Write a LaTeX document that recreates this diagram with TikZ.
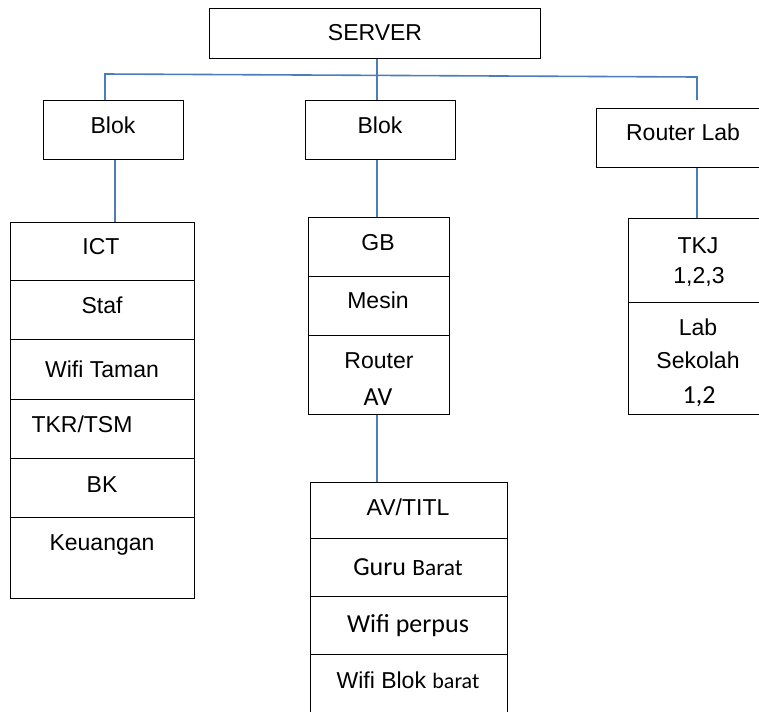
\documentclass[tikz,border=0pt]{standalone}
\usepackage{fontspec}
\setmainfont{Liberation Sans}
\newfontfamily\calib{Carlito}
\definecolor{linkblue}{RGB}{74,126,187}
\newcommand\cellnode[5]{\node[cell, minimum width=#4*0.75pt, minimum height=#5*0.75pt] (#1) at (#2,#3) {};}
\newcommand\calbig{\calib\fontsize{19.5}{22}\selectfont}
\newcommand\calmid{\calib\fontsize{17.5}{21}\selectfont}
\newcommand\calsmall{\calib\fontsize{16.5}{20}\selectfont}
\tikzset{
  cell/.style={draw=black, line width=0.8pt, rectangle, inner sep=0pt, anchor=north west},
  lbl/.style={anchor=base, inner sep=0pt, font=\fontsize{17.25}{20}\selectfont},
  link/.style={draw=linkblue, line width=1.2pt},
}
\begin{document}
\begin{tikzpicture}[x=0.75pt,y=-0.75pt]
\useasboundingbox (0,0) rectangle (759,711);
\clip (0,0) rectangle (759,711);
% top level
\cellnode{server}{209}{8}{331}{50}
\cellnode{blokA}{43}{100}{140}{59}
\cellnode{blokB}{305}{100}{150}{59}
\cellnode{rlab}{596}{108}{166}{59}
% left stack
\cellnode{ict}{10}{222}{184}{58}
\cellnode{staf}{10}{280}{184}{59}
\cellnode{wtaman}{10}{339}{184}{60}
\cellnode{tkr}{10}{399}{184}{59}
\cellnode{bk}{10}{458}{184}{59}
\cellnode{keu}{10}{517}{184}{81}
% middle stack
\cellnode{gb}{308}{217}{141}{59}
\cellnode{mesin}{308}{276}{141}{59}
\cellnode{rav}{308}{335}{141}{79}
% lower stack
\cellnode{avt}{310}{482}{197}{56}
\cellnode{guru}{310}{538}{197}{58}
\cellnode{wperp}{310}{596}{197}{58}
\cellnode{wblok}{310}{654}{197}{64}
% right stack
\cellnode{tkj}{628}{218}{134}{84}
\cellnode{lab}{628}{302}{134}{112}

% labels
\node[lbl] (tserver) at (375,40) {SERVER};
\node[lbl] (tblokA) at (113,133) {Blok};
\node[lbl] (tblokB) at (380,133) {Blok};
\node[lbl] (trlab) at (683,140) {Router Lab};
\node[lbl] (tict) at (101,254) {ICT};
\node[lbl] (tstaf) at (102,313) {Staf};
\node[lbl] (twtaman) at (102,377) {Wifi Taman};
\node[lbl] (ttkr) at (82,432) {TKR/TSM};
\node[lbl] (tbk) at (102,492) {BK};
\node[lbl] (tkeu) at (102,550) {Keuangan};
\node[lbl] (tgb) at (378,250) {GB};
\node[lbl] (tmesin) at (378,308) {Mesin};
\node[lbl] (trouter) at (379,368) {Router};
\node[lbl, font=\calbig] (tav) at (378,405) {AV};
\node[lbl] (tavt) at (408,515) {AV/TITL};
\node[lbl] (tguru) at (408,575) {{\calbig Guru} {\calmid Barat}};
\node[lbl, font=\calbig] (twperp) at (408,632) {Wifi perpus};
\node[lbl] (twblok) at (408,688) {Wifi Blok {\calsmall barat}};
\node[lbl] (ttkj) at (698,253) {TKJ};
\node[lbl] (ttkjn) at (699,283) {1,2,3};
\node[lbl] (tlab) at (698,335) {Lab};
\node[lbl] (tsek) at (698,368) {Sekolah};
\node[lbl, font=\calbig] (tlabn) at (699,403) {1,2};

% connectors
\coordinate (jl) at (105,74);
\coordinate (jm) at (377,75);
\coordinate (jr) at (697,77);
\coordinate (jrend) at (697,100);
\coordinate (ja) at (115,0);
\draw[link] (blokA.north -| jl) -- (jl) -- (jr) -- (jrend);
\draw[link] (server.south -| jm) -- (blokB.north -| jm);
\draw[link] (blokA.south -| ja) -- (ict.north -| ja);
\draw[link] (blokB.south -| jm) -- (gb.north -| jm);
\draw[link] (rlab.south -| jr) -- (tkj.north -| jr);
\draw[link] (rav.south -| jm) -- (avt.north -| jm);
\end{tikzpicture}
\end{document}
